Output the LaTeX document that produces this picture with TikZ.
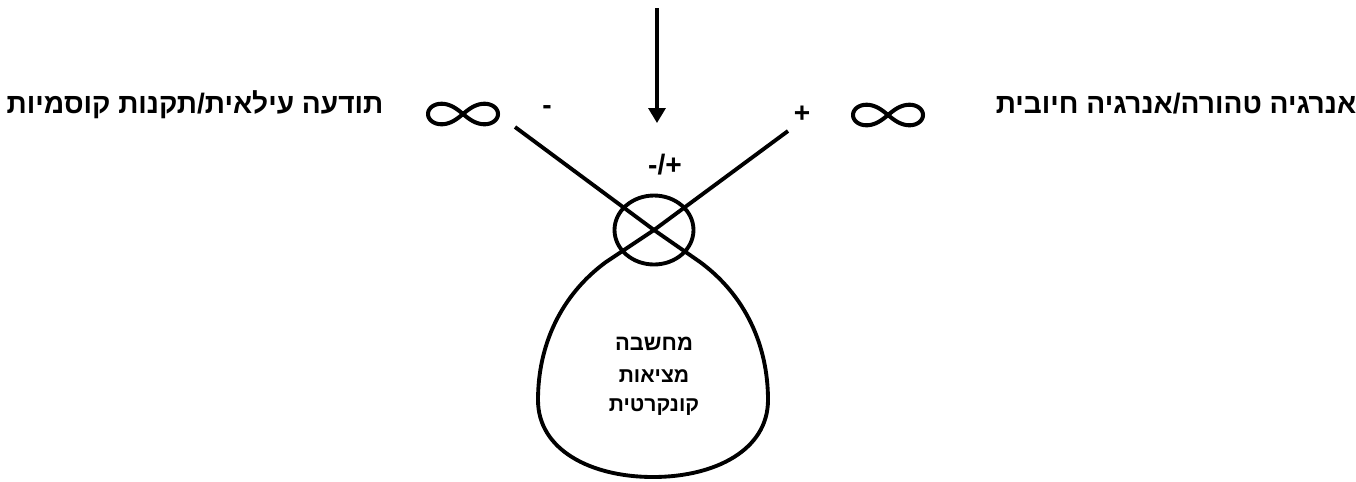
\documentclass[tikz,border=0pt]{standalone}
\usepackage{fontspec}
\usepackage{tikz}
\usetikzlibrary{arrows.meta,shapes.geometric}
\TeXXeTstate=1
\newfontfamily\hebfont[Script=Hebrew]{Liberation Sans}
\newfontfamily\latfont{Liberation Sans}
\tikzset{
  % thick black strokes of the figure
  wire/.style  = {line width=2.2pt, line join=round},
  ring/.style  = {ellipse, draw, line width=2.2pt, inner sep=0pt,
                  minimum width=1.58cm, minimum height=1.38cm},
  arr/.style   = {-{Triangle[width=3.4mm,length=3mm]}, line width=1.9pt},
  lemni/.style = {line width=2.3pt, smooth, samples=120, domain=0:360},
  heb/.style   = {font=\hebfont\bfseries\fontsize{16}{19}\selectfont,
                  anchor=base, inner sep=0pt},
  sgn/.style   = {font=\latfont\bfseries\fontsize{16}{19}\selectfont, inner sep=0pt},
  inlbl/.style = {font=\hebfont\bfseries\fontsize{12}{14}\selectfont,
                  anchor=base, inner sep=0pt},
}
\begin{document}
\begin{tikzpicture}[x=0.02cm,y=-0.02cm]
\useasboundingbox (0,0) rectangle (1356,481);
% side labels
\node[heb] (lefttxt)  at (195,113)  {\beginR תודעה עילאית/תקנות קוסמיות\endR};
\node[heb] (righttxt) at (1176,113) {\beginR אנרגיה טהורה/אנרגיה חיובית\endR};
% infinity signs
\coordinate (infl) at (463,114);
\coordinate (infr) at (888,115);
\foreach \c in {infl,infr}
  \draw[lemni, shift={(\c)}] plot ({35*cos(\x)/(1+sin(\x)^2)},
                                   {0.83*35*sin(\x)*cos(\x)/(1+sin(\x)^2)});
% signs
\node[sgn] (minus) at (547,110) {-};
\node[sgn] (plus)  at (802,114) {+};
\node[sgn] (both)  at (665,165) {-/+};
% incoming arrow
\coordinate (src) at (657,8);
\coordinate (tip) at (657,123);
\draw[arr] (src) -- (tip);
% crossing and loop
\node[ring] (meet) at (654,230) {};
\coordinate (endl) at (515,127);
\coordinate (endr) at (788,131);
\draw[wire] (endl) -- (meet.center) -- (700,262)
  .. controls (745,295) and (768,345) .. (768,400)
  .. controls (768,450) and (715,477) .. (653,477)
  .. controls (591,477) and (538,450) .. (538,400)
  .. controls (538,345) and (561,295) .. (606,262)
  -- (meet.center) -- (endr);
% text inside the loop
\node[inlbl, font=\hebfont\bfseries\fontsize{12.5}{15}\selectfont] (think) at (654,350) {\beginR מחשבה\endR};
\node[inlbl] (real)  at (654,382) {\beginR מציאות\endR};
\node[inlbl] (concr) at (654,411) {\beginR קונקרטית\endR};
\end{tikzpicture}
\end{document}
